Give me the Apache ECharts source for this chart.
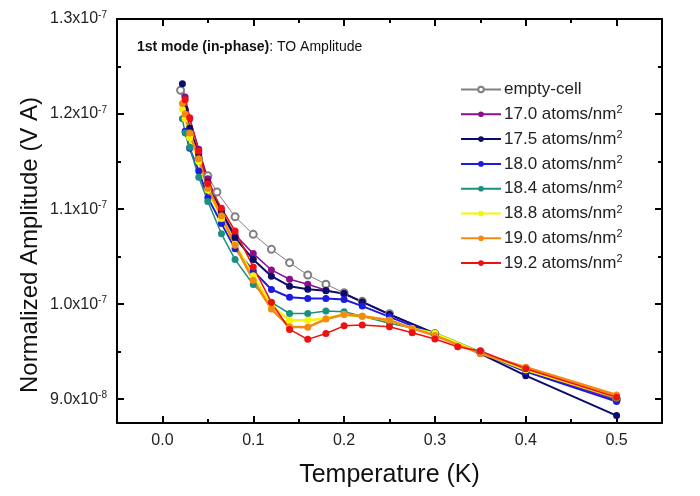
<!DOCTYPE html>
<html><head><meta charset="utf-8">
<script src="https://cdn.jsdelivr.net/npm/echarts@6/dist/echarts.min.js"></script>
<style>html,body{margin:0;padding:0;background:#fff}#c{width:700px;height:496px}</style>
</head><body><div id="c"></div>
<script>
// Temperatures (K)
const tempsEmpty = [0.02,0.03,0.04,0.05,0.06,0.08,0.1,0.12,0.14,0.16,0.18,0.2,0.22,0.25,0.3,0.35,0.4,0.5];
const temps = [0.022,0.025,0.03,0.04,0.05,0.065,0.08,0.1,0.12,0.14,0.16,0.18,0.2,0.22,0.25,0.275,0.3,0.325,0.35,0.4,0.5];
// Normalized amplitude in units of 1e-7 V A
const emptyCell = [1.225,1.178,1.153,1.135,1.118,1.092,1.0735,1.0577,1.0437,1.0307,1.021,1.012,1.003,0.990,0.969,0.950,0.932,0.900];
const d170 = [null,1.218,1.195,1.163,1.132,1.098,1.073,1.0532,1.036,1.0262,1.021,1.0147,1.011,1.0024,0.989,null,0.969,null,0.949,0.930,0.899];
const d175 = [1.232,1.205,1.185,1.158,1.128,1.097,1.070,1.0469,1.0294,1.0189,1.0157,1.014,1.0111,1.0024,0.9892,null,0.9693,null,0.948,0.9248,0.8828];
const d180 = [null,1.182,1.164,1.140,1.112,1.085,1.0584,1.035,1.0154,1.0073,1.006,1.006,1.0049,0.998,0.9867,null,0.968,null,0.949,0.929,0.8975];
const d184 = [1.195,1.180,1.165,1.1336,1.108,1.074,1.0469,1.0207,1.002,0.9902,0.9902,0.9927,0.992,0.9874,0.980,null,0.970,null,0.950,0.931,0.901];
const d188 = [1.205,1.195,1.175,1.150,1.120,1.090,1.063,1.030,0.998,0.9832,0.9832,0.985,0.9892,0.9874,0.9832,0.9745,0.9693,null,0.949,0.931,0.902];
const d190 = [1.211,1.200,1.180,1.153,1.122,1.093,1.0619,1.0252,0.9948,0.9762,0.9758,0.9843,0.9892,0.9874,0.9832,0.9745,0.967,null,0.948,0.9336,0.9045];
const d192 = [null,1.215,1.196,1.161,1.127,1.101,1.077,1.0392,1.0018,0.9734,0.963,0.9692,0.9772,0.978,0.9762,0.9699,0.9633,0.9552,0.9507,0.932,0.902];
const seriesNames = ['empty-cell','17.0 atoms/nm2','17.5 atoms/nm2','18.0 atoms/nm2','18.4 atoms/nm2','18.8 atoms/nm2','19.0 atoms/nm2','19.2 atoms/nm2'];
const xTicks = [0,0.1,0.2,0.3,0.4,0.5];
const xMinorTicks = [0.05,0.15,0.25,0.35,0.45];
const yTicks = [0.9,1.0,1.1,1.2,1.3];
const yMinorTicks = [0.95,1.05,1.15,1.25];
const yTitle = 'Normalized Amplitude (V A)';
const xTitle = 'Temperature (K)';

const colors = ['#808080','#8b0f8b','#0c0c6a','#1c1ce0','#1b8f80','#f5f500','#f58a10','#f01010'];
const widths = [1,1.5,2,2,1.5,2.5,2.5,1.5];
const allData = [d170,d175,d180,d184,d188,d190,d192];

const FONT = 'Liberation Sans, Arial, sans-serif';
function pair(xs, ys){ return xs.map((x,i)=>[x, ys[i]]).filter(p=>p[1]!==null); }

const series = [];
series.push({
  name: seriesNames[0], type:'line', data: pair(tempsEmpty, emptyCell),
  symbol:'emptyCircle', symbolSize:7, xAxisIndex:0, yAxisIndex:0,
  lineStyle:{color:colors[0], width:widths[0]},
  itemStyle:{color:colors[0], borderColor:colors[0], borderWidth:1},
  emphasis:{disabled:true}, animation:false
});
allData.forEach((d,i)=>{
  series.push({
    name: seriesNames[i+1], type:'line', data: pair(temps, d),
    symbol:'circle', symbolSize:7, xAxisIndex:0, yAxisIndex:0,
    lineStyle:{color:colors[i+1], width:widths[i+1]},
    itemStyle:{color:colors[i+1]},
    emphasis:{disabled:true}, animation:false
  });
});

const axisLine = {show:true, onZero:false, lineStyle:{color:'#000', width:2}};
const noLine = {show:false, onZero:false};
const yFmt = v => (v < 0.95 ? (v*10).toFixed(1)+'x10{sup|-8}' : v.toFixed(1)+'x10{sup|-7}');
const supRich = {sup:{fontSize:10, verticalAlign:'top', color:'#222', fontFamily:FONT, padding:[0,0,7,0]}};
const supRichL = {sup:{fontSize:11, verticalAlign:'top', color:'#222', fontFamily:FONT, padding:[0,0,8,0]}};

const xBase = {type:'value', min:-0.05, max:0.55, splitLine:{show:false}, axisLine};
const yBase = {type:'value', min:0.875, max:1.3, splitLine:{show:false}, axisLine};
const tk = (len, vals) => ({inside:true, length:len, lineStyle:{color:'#000', width:2}, customValues:vals});

const option = {
  backgroundColor:'#fff',
  animation:false,
  grid:{left:117, right:38, top:19, bottom:73, containLabel:false},
  xAxis:[
    Object.assign({}, xBase, {position:'bottom', axisTick:tk(7, xTicks),
      axisLabel:{customValues:xTicks, color:'#222', fontSize:16, fontFamily:FONT, margin:10, formatter:v=>v.toFixed(1)},
      name:xTitle, nameLocation:'middle', nameGap:40,
      nameTextStyle:{fontSize:25, color:'#111', fontFamily:FONT}}),
    Object.assign({}, xBase, {position:'bottom', axisLine:noLine, axisTick:tk(4, xMinorTicks), axisLabel:{show:false}}),
    Object.assign({}, xBase, {position:'top', axisTick:tk(7, xTicks), axisLabel:{show:false}}),
    Object.assign({}, xBase, {position:'top', axisLine:noLine, axisTick:tk(4, xMinorTicks), axisLabel:{show:false}})
  ],
  yAxis:[
    Object.assign({}, yBase, {position:'left', axisTick:tk(7, yTicks),
      axisLabel:{customValues:yTicks, color:'#222', fontSize:16, fontFamily:FONT, margin:10, formatter:yFmt, rich:supRich}}),
    Object.assign({}, yBase, {position:'left', axisLine:noLine, axisTick:tk(4, yMinorTicks), axisLabel:{show:false}}),
    Object.assign({}, yBase, {position:'right', axisTick:tk(7, yTicks), axisLabel:{show:false}}),
    Object.assign({}, yBase, {position:'right', axisLine:noLine, axisTick:tk(4, yMinorTicks), axisLabel:{show:false}})
  ],
  legend:{
    left:455, top:76, orient:'vertical', itemGap:6.8, itemWidth:40, itemHeight:7,
    data: seriesNames,
    textStyle:{fontSize:17, color:'#222', fontFamily:FONT, rich:supRichL, padding:[0,0,0,-2]},
    formatter: n => n.endsWith('nm2') ? n.slice(0,-1)+'{sup|2}' : n
  },
  graphic:[{
    type:'text', left:137, top:40,
    style:{
      text:'{b|1st mode (in-phase)}: TO Amplitude',
      rich:{b:{fontWeight:'bold', fontSize:14, fontFamily:FONT, fill:'#111'}},
      fontSize:14, fontFamily:FONT, fill:'#111'
    }
  },{
    type:'text', x:30, y:245, rotation:Math.PI/2,
    style:{text:yTitle, fontSize:24, fontFamily:FONT, fill:'#111', textAlign:'center', textVerticalAlign:'middle'}
  }],
  series
};
const chart = echarts.init(document.getElementById('c'), null, {renderer:'canvas'});
chart.setOption(option);
</script>
</body></html>
